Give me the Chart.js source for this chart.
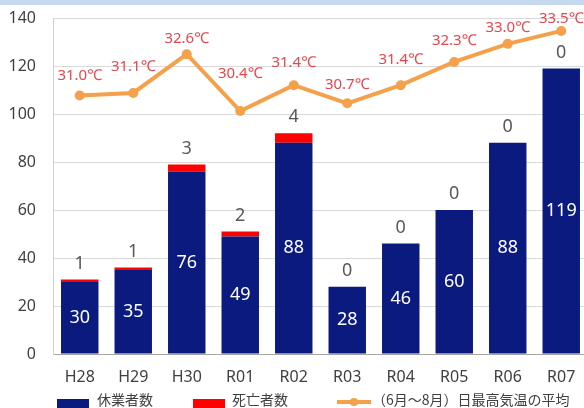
<!DOCTYPE html>
<html><head><meta charset="utf-8">
<script src="https://cdn.jsdelivr.net/npm/chart.js@4"></script>
<style>
html,body{margin:0;padding:0;width:584px;height:408px;overflow:hidden;background:#fff;}
#topband{position:absolute;left:0;top:0;width:584px;height:5px;background:#c5d9ee;}
#wrap{position:absolute;left:0;top:0;width:593px;height:408px;}
#legend{position:absolute;top:389px;left:0;width:600px;height:30px;font-family:"Noto Sans CJK JP","Noto Sans",sans-serif;font-size:14px;color:#404040;}
.li{position:absolute;top:0;white-space:nowrap;line-height:20px;}
.box{position:absolute;top:10px;width:32px;height:12px;}
</style></head>
<body>
<div id="wrap"><canvas id="c" width="593" height="408"></canvas></div>
<div id="topband"></div>
<div id="legend">
  <div class="box" style="left:57px;background:#0b1a7e"></div>
  <div class="li" style="left:97px">休業者数</div>
  <div class="box" style="left:193px;background:#ff0000"></div>
  <div class="li" style="left:232px">死亡者数</div>
  <div style="position:absolute;left:337px;top:11px;width:34px;height:4px;background:#f5a04a"></div>
  <div style="position:absolute;left:350px;top:9px;width:8px;height:8px;border-radius:4px;background:#f5a04a"></div>
  <div class="li" style="left:372px">（6月～8月）日最高気温の平均</div>
</div>
<script>
const categories = ['H28','H29','H30','R01','R02','R03','R04','R05','R06','R07'];
const absentees = [30,35,76,49,88,28,46,60,88,119];
const deaths = [1,1,3,2,4,0,0,0,0,0];
const avgMaxTemp = [31.0,31.1,32.6,30.4,31.4,30.7,31.4,32.3,33.0,33.5];
const yTicks = [0,20,40,60,80,100,120,140];
const tempLabelOffsets = [20,26,15,37,22,19,25,21,16,12];

const labelPlugin = {
  id:'labels',
  afterDatasetsDraw(chart){
    const ctx = chart.ctx;
    ctx.save();
    ctx.textAlign='center';
    ctx.textBaseline='middle';
    const m0 = chart.getDatasetMeta(0);
    ctx.font = '18px "Noto Sans","Open Sans",sans-serif';
    ctx.fillStyle = '#ffffff';
    m0.data.forEach((b,i)=>{
      ctx.fillText(String(absentees[i]), b.x, (b.y + b.base)/2);
    });
    const m1 = chart.getDatasetMeta(1);
    ctx.fillStyle = '#595959';
    m1.data.forEach((b,i)=>{
      ctx.fillText(String(deaths[i]), b.x, b.y - 16);
    });
    const m2 = chart.getDatasetMeta(2);
    ctx.font = '15px "Noto Sans","Open Sans",sans-serif';
    ctx.fillStyle = '#e8464e';
    m2.data.forEach((p,i)=>{
      ctx.fillText(avgMaxTemp[i].toFixed(1)+'℃', p.x, p.y - tempLabelOffsets[i]);
    });
    ctx.restore();
  }
};

new Chart(document.getElementById('c'), {
  type:'bar',
  data:{
    labels:categories,
    datasets:[
      {label:'休業者数', data:absentees, backgroundColor:'#0b1a7e', stack:'s', yAxisID:'y', order:2,
       barPercentage:0.7, categoryPercentage:1.0},
      {label:'死亡者数', data:deaths, backgroundColor:'#ff0000', stack:'s', yAxisID:'y', order:2,
       barPercentage:0.7, categoryPercentage:1.0},
      {type:'line', label:'（6月～8月）日最高気温の平均', data:avgMaxTemp, yAxisID:'y1', order:1,
       borderColor:'#f5a04a', backgroundColor:'#f5a04a', borderWidth:4, pointRadius:5,
       pointBackgroundColor:'#f5a04a', pointBorderWidth:0, tension:0}
    ]
  },
  options:{
    responsive:false, animation:false,
    layout:{padding:{left:0,right:0,top:18,bottom:0}},
    plugins:{legend:{display:false}, tooltip:{enabled:false}},
    scales:{
      x:{stacked:true,
         grid:{display:false, drawTicks:false},
         border:{display:true,color:'#a6a6a6',width:1},
         ticks:{color:'#404040',font:{size:16,family:'"Noto Sans","Open Sans",sans-serif'},padding:14},
         afterFit(s){s.height=54;s.paddingLeft=0;s.paddingRight=0;}},
      y:{stacked:true,min:0,max:140,
         afterBuildTicks(s){s.ticks=yTicks.map(v=>({value:v}));},
         grid:{color:'#d9d9d9',drawTicks:false},
         border:{display:true,color:'#cfcfd8',width:1},
         ticks:{color:'#404040',font:{size:16,family:'"Noto Sans","Open Sans",sans-serif'},padding:17},
         afterFit(s){s.width=53;s.paddingTop=0;s.paddingBottom=0;}},
      y1:{display:false,min:21,max:34}
    }
  },
  plugins:[labelPlugin]
});
</script>
</body></html>
